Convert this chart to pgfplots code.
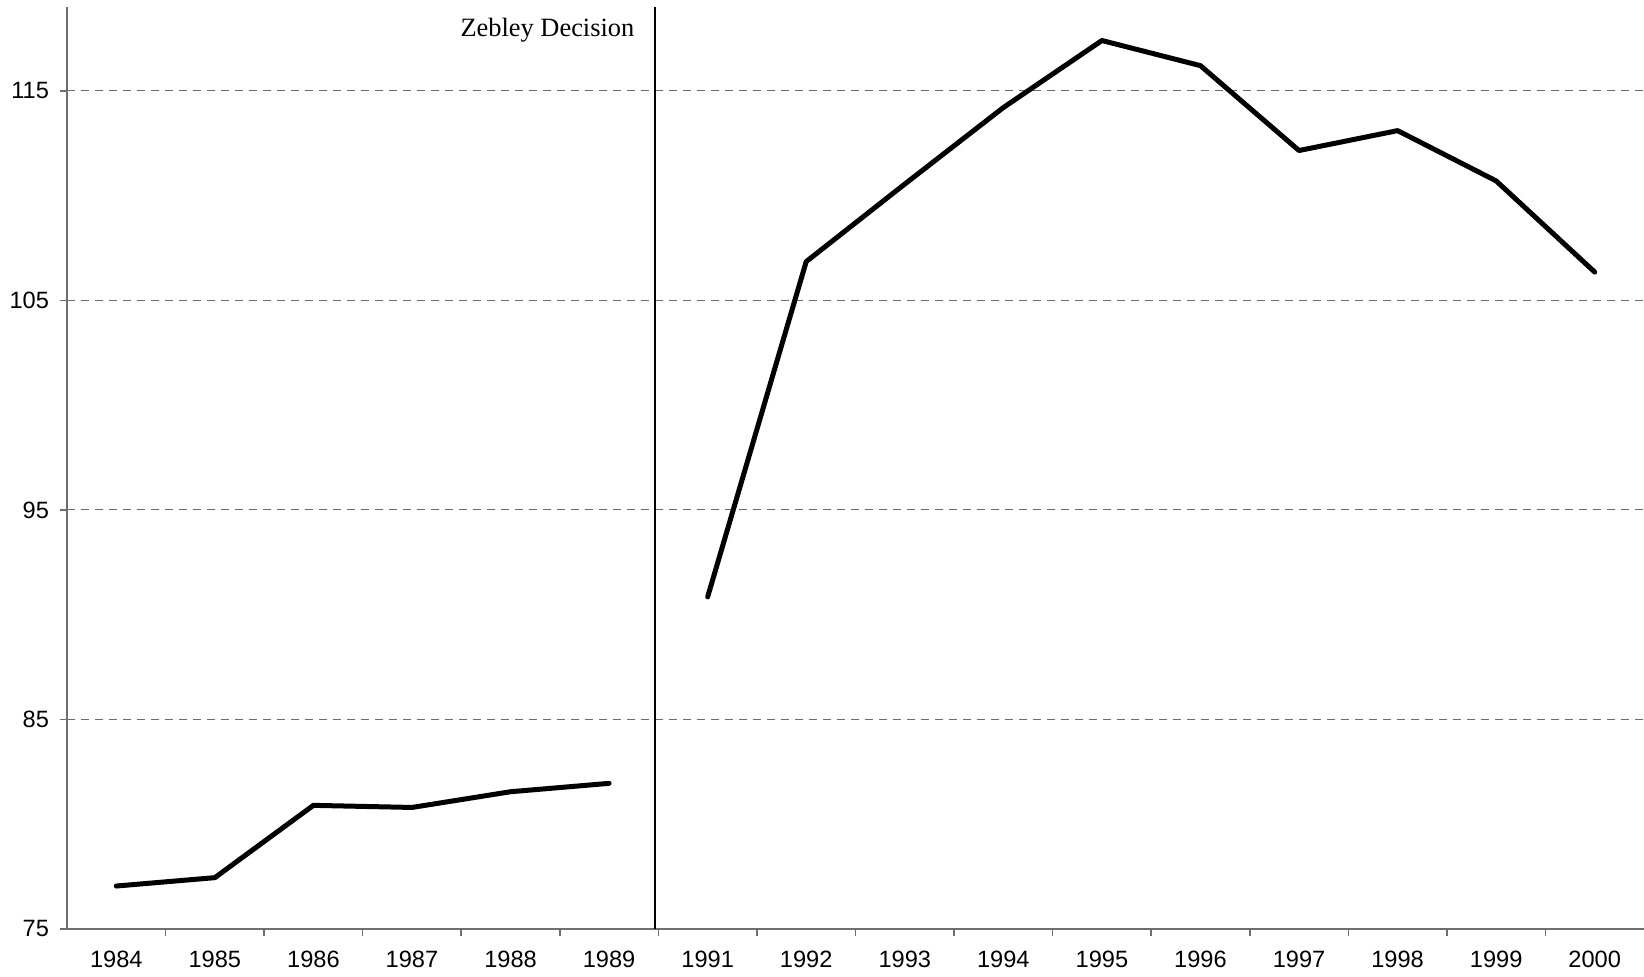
\documentclass[border=0pt]{standalone}
\usepackage{pgfplots}
\pgfplotsset{compat=1.18}
\usepackage{fontspec}
\setmainfont{Liberation Sans}
\newfontfamily\timesfont{Liberation Serif}
\definecolor{axgray}{RGB}{110,110,110}
\begin{document}
\begin{tikzpicture}
\begin{axis}[
  name=ax,
  width=788.5pt, height=461pt, scale only axis,
  xmin=-0.5, xmax=15.5, ymin=75, ymax=119,
  axis x line=bottom, axis y line=left,
  axis line style={draw=axgray, line width=0.8pt, -},
  xtick={0,...,15},
  xticklabels={1984,1985,1986,1987,1988,1989,1991,1992,1993,1994,1995,1996,1997,1998,1999,2000},
  minor xtick={0.5,1.5,...,14.5},
  major x tick style={draw=none},
  minor x tick style={draw=axgray, line width=0.8pt},
  y tick style={draw=axgray, line width=0.8pt},
  tick align=outside,
  major tick length=3.5pt, minor tick length=3.5pt,
  ytick={75,85,95,105,115},
  ymajorgrids,
  major grid style={draw=gray!85!black, dash pattern=on 4pt off 3pt, line width=0.5pt},
  ticklabel style={font=\fontsize{11.8}{14}\selectfont},
  xticklabel style={yshift=-4pt},
  yticklabel style={xshift=-2pt},
  /pgf/number format/assume math mode=true,
]
\addplot[black, line width=1pt] coordinates {(5.47,75) (5.47,119)};
\addplot[black, line width=2.5pt, line join=round, line cap=round] coordinates {
 (0,77.05) (1,77.45) (2,80.9) (3,80.8) (4,81.55) (5,81.95)};
\addplot[black, line width=2.5pt, line join=round, line cap=round] coordinates {
 (6,90.85) (7,106.85) (8,110.55) (9,114.2) (10,117.4) (11,116.2) (12,112.15) (13,113.1) (14,110.7) (15,106.35)};
\node[anchor=base east, inner sep=0pt, font=\timesfont\fontsize{13.2}{15}\selectfont] at (axis cs:5.26,117.57) {Zebley Decision};
\end{axis}
\pgfresetboundingbox
\path ([shift={(-33.5pt,-24pt)}]ax.south west) rectangle ([shift={(0pt,3.5pt)}]ax.north east);
\end{tikzpicture}
\end{document}
